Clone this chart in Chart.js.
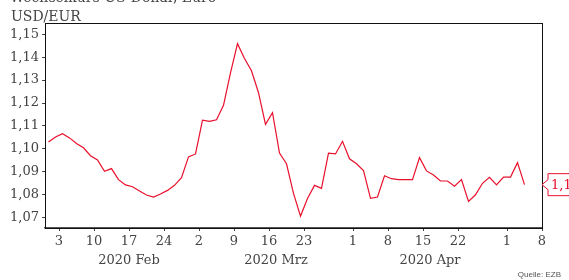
<!DOCTYPE html>
<html>
<head>
<meta charset="utf-8">
<script src="https://cdn.jsdelivr.net/npm/chart.js@4/dist/chart.umd.min.js"></script>
<style>
  html, body { margin: 0; padding: 0; background: #fff; }
  canvas { display: block; }
</style>
</head>
<body>
<canvas id="chart" width="569" height="280"></canvas>
<script>
// USD/EUR reference rate, one value per business day (30 Jan - 5 May 2020)
const usdEur = [
  1.1030, 1.1052, 1.1066, 1.1048, 1.1024, 1.1005, 1.0970, 1.0952, 1.0902, 1.0914,
  1.0866, 1.0843, 1.0835, 1.0816, 1.0799, 1.0790, 1.0803, 1.0819, 1.0841, 1.0874,
  1.0965, 1.0978, 1.1125, 1.1120, 1.1127, 1.1190, 1.1332, 1.1459, 1.1394, 1.1341,
  1.1245, 1.1107, 1.1158, 1.0982, 1.0935, 1.0806, 1.0707, 1.0784, 1.0841, 1.0828,
  1.0981, 1.0978, 1.1033, 1.0957, 1.0935, 1.0905, 1.0784, 1.0790, 1.0883, 1.0870,
  1.0866, 1.0866, 1.0866, 1.0962, 1.0904, 1.0886, 1.0860, 1.0860, 1.0837, 1.0866,
  1.0771, 1.0800, 1.0850, 1.0876, 1.0843, 1.0877, 1.0877, 1.0940, 1.0844
];

// x axis in business days, 0 = 30 Jan
const xTickPos = [2, 7, 12, 17, 22, 27, 32, 37, 44, 49, 54, 59, 66, 71];
const xTickLabels = ['3', '10', '17', '24', '2', '9', '16', '23', '1', '8', '15', '22', '1', '8'];
const monthLabels = ['2020 Feb', '2020 Mrz', '2020 Apr'];
const monthLabelPos = [12, 33, 55];

const yTicks = [1.07, 1.08, 1.09, 1.10, 1.11, 1.12, 1.13, 1.14, 1.15];

const lastLabel = '1,1';
const title = 'Wechselkurs US-Dollar, Euro';
const unitLabel = 'USD/EUR';
const source = 'Quelle: EZB';

const RED = '#e8102c';
const TEXT = '#444';
const SERIF = '"DejaVu Serif", serif';

const extras = {
  id: 'extras',
  beforeDraw(chart) {
    const ctx = chart.ctx;
    ctx.save();
    ctx.fillStyle = '#fff';
    ctx.fillRect(0, 0, chart.width, chart.height);
    ctx.restore();
  },
  afterDraw(chart) {
    const { ctx, chartArea: a, scales } = chart;
    ctx.save();

    // frame
    ctx.strokeStyle = '#111';
    ctx.lineWidth = 1;
    ctx.strokeRect(a.left + 0.5, a.top + 0.5, a.right - a.left, a.bottom - a.top);

    // title (cut off at top) and unit
    ctx.fillStyle = TEXT;
    ctx.font = '14px ' + SERIF;
    ctx.textAlign = 'left';
    ctx.textBaseline = 'alphabetic';
    ctx.fillText(title, 10, 2);
    ctx.fillText(unitLabel, 11, 20.5);

    // month labels
    ctx.font = '13px ' + SERIF;
    ctx.textAlign = 'center';
    monthLabels.forEach((t, i) => {
      ctx.fillText(t, scales.x.getPixelForValue(monthLabelPos[i]), 263.5);
    });

    // callout with last value
    const y = scales.y.getPixelForValue(usdEur[usdEur.length - 1]);
    const bx = a.right + 6;
    ctx.beginPath();
    ctx.moveTo(bx + 60, y - 11);
    ctx.lineTo(bx, y - 11);
    ctx.lineTo(bx, y - 5);
    ctx.lineTo(a.right, y);
    ctx.lineTo(bx, y + 5);
    ctx.lineTo(bx, y + 11);
    ctx.lineTo(bx + 60, y + 11);
    ctx.closePath();
    ctx.fillStyle = '#fff';
    ctx.fill();
    ctx.strokeStyle = RED;
    ctx.lineWidth = 1;
    ctx.stroke();
    ctx.fillStyle = RED;
    ctx.textAlign = 'left';
    ctx.textBaseline = 'middle';
    ctx.fillText(lastLabel, bx + 3, y + 1);

    // source
    ctx.fillStyle = '#555';
    ctx.font = '8px "Liberation Sans", Arial, sans-serif';
    ctx.textAlign = 'right';
    ctx.textBaseline = 'alphabetic';
    ctx.fillText(source, 561, 277);

    ctx.restore();
  }
};

new Chart(document.getElementById('chart'), {
  type: 'line',
  data: {
    datasets: [{
      data: usdEur.map((v, i) => ({ x: i + 0.5, y: v })),
      borderColor: RED,
      borderWidth: 1.2,
      pointRadius: 0,
      tension: 0,
      fill: false
    }]
  },
  options: {
    responsive: false,
    animation: false,
    layout: { padding: { top: 23, right: 27, left: 0, bottom: 0 } },
    plugins: {
      legend: { display: false },
      tooltip: { enabled: false }
    },
    scales: {
      x: {
        type: 'linear',
        min: 0,
        max: 71,
        afterBuildTicks: s => { s.ticks = xTickPos.map(v => ({ value: v })); },
        afterFit: s => { s.height = 52; },
        ticks: {
          autoSkip: false,
          maxRotation: 0,
          padding: 3,
          color: TEXT,
          font: { family: SERIF, size: 13 },
          callback: v => xTickLabels[xTickPos.indexOf(v)]
        },
        grid: { drawOnChartArea: false, tickLength: 3, color: '#444' },
        border: { color: '#555', width: 1.5 }
      },
      y: {
        min: 1.0655,
        max: 1.1549,
        afterBuildTicks: s => { s.ticks = yTicks.map(v => ({ value: v })); },
        afterFit: s => { s.width = 45; },
        ticks: {
          padding: 3,
          color: TEXT,
          font: { family: SERIF, size: 13 },
          callback: v => v.toFixed(2).replace('.', ',')
        },
        grid: { drawOnChartArea: false, tickLength: 3, color: '#444' },
        border: { color: '#333', width: 1 }
      }
    }
  },
  plugins: [extras]
});
</script>
</body>
</html>
